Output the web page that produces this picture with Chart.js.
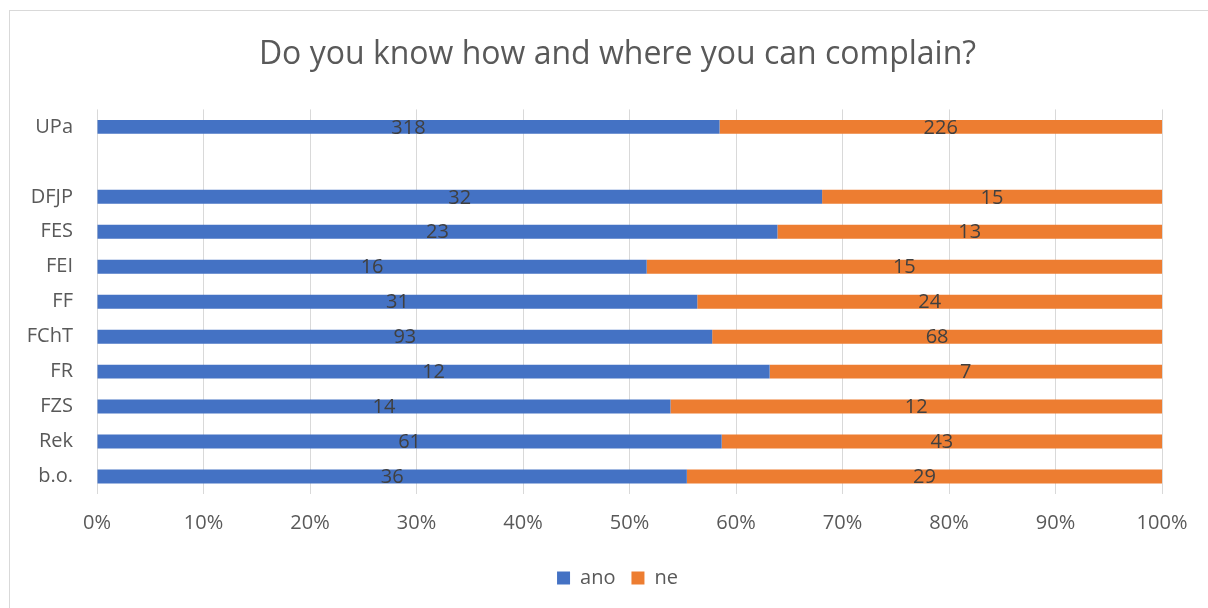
<!DOCTYPE html>
<html>
<head>
<meta charset="utf-8">
<script src="https://cdn.jsdelivr.net/npm/chart.js@4.4.1/dist/chart.umd.min.js"></script>
<style>
  html, body { margin: 0; padding: 0; background: #fff; overflow: hidden; }
  #frame { position: absolute; left: 9px; top: 10px; width: 1230px; height: 620px; border: 1px solid #d9d9d9; }
  #wrap { position: absolute; left: 0; top: 0; width: 1208px; height: 608px; }
</style>
</head>
<body>
<div id="frame"></div>
<div id="wrap"><canvas id="chart"></canvas></div>
<script>
const categories = ['UPa', '', 'DFJP', 'FES', 'FEI', 'FF', 'FChT', 'FR', 'FZS', 'Rek', 'b.o.'];
const anoCounts = [318, null, 32, 23, 16, 31, 93, 12, 14, 61, 36];
const neCounts = [226, null, 15, 13, 15, 24, 68, 7, 12, 43, 29];
const xTicks = [0, 10, 20, 30, 40, 50, 60, 70, 80, 90, 100];

const share = (a, b) => a.map((v, i) => (v === null ? null : (v / (v + b[i])) * 100));

// counts written in the middle of each segment
const countLabels = {
    id: 'countLabels',
    afterDatasetsDraw(chart) {
        const ctx = chart.ctx;
        ctx.save();
        ctx.font = '20px "Open Sans"';
        ctx.fillStyle = '#404040';
        ctx.textAlign = 'center';
        ctx.textBaseline = 'middle';
        chart.data.datasets.forEach((ds, di) => {
            chart.getDatasetMeta(di).data.forEach((bar, i) => {
                const n = ds.counts[i];
                if (n === null) return;
                const { x, base, y } = bar.getProps(['x', 'base', 'y'], true);
                ctx.fillText(String(n), (x + base) / 2, y + 1);
            });
        });
        ctx.restore();
    },
};

// y axis is kept narrow so title/legend centre like the original; widen its label clip afterwards
const widenYAxis = {
    id: 'widenYAxis',
    afterLayout(chart) {
        const y = chart.scales.y;
        y.left = y.right - 80;
    },
};

new Chart(document.getElementById('chart'), {
    type: 'bar',
    data: {
        labels: categories,
        datasets: [
            {
                label: 'ano',
                data: share(anoCounts, neCounts),
                counts: anoCounts,
                backgroundColor: '#4472c4',
                barPercentage: 0.4,
                categoryPercentage: 1,
            },
            {
                label: 'ne',
                data: share(neCounts, anoCounts),
                counts: neCounts,
                backgroundColor: '#ed7d31',
                barPercentage: 0.4,
                categoryPercentage: 1,
            },
        ],
    },
    options: {
        indexAxis: 'y',
        responsive: true,
        maintainAspectRatio: false,
        animation: false,
        layout: {
            padding: { top: 36, left: 73, right: 46, bottom: 10 },
        },
        scales: {
            x: {
                stacked: true,
                min: 0,
                max: 100,
                afterBuildTicks: (scale) => {
                    scale.ticks = xTicks.map((v) => ({ value: v }));
                },
                grid: { color: '#d9d9d9', drawTicks: false },
                border: { display: false },
                ticks: {
                    color: '#595959',
                    font: { family: 'Open Sans', size: 20 },
                    padding: 17,
                    callback: (v) => v + '%',
                },
            },
            y: {
                stacked: true,
                grid: { display: false },
                border: { display: false },
                afterFit: (scale) => {
                    scale.width = 24;
                },
                ticks: {
                    color: '#595959',
                    font: { family: 'Open Sans', size: 20 },
                    padding: 16,
                    autoSkip: false,
                },
            },
        },
        plugins: {
            title: {
                display: true,
                text: 'Do you know how and where you can complain?',
                color: '#595959',
                font: { family: 'Open Sans', size: 32, weight: 'normal' },
                padding: { top: 0, bottom: 35 },
            },
            legend: {
                position: 'bottom',
                labels: {
                    color: '#595959',
                    font: { family: 'Open Sans', size: 20 },
                    boxWidth: 13,
                    boxHeight: 13,
                    padding: 16,
                },
            },
            tooltip: { enabled: false },
        },
    },
    plugins: [countLabels, widenYAxis],
});
</script>
</body>
</html>
